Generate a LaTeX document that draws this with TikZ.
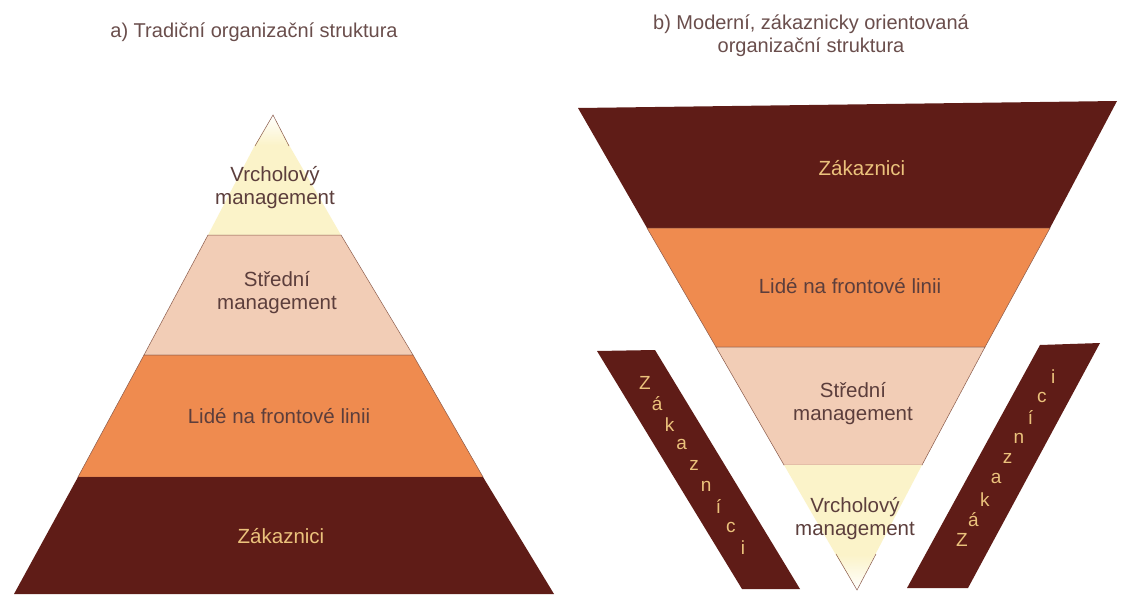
\documentclass[tikz,border=0pt]{standalone}
\usepackage{fontspec}
\setmainfont{Liberation Sans}
\definecolor{darkband}{HTML}{5F1C17}
\definecolor{orangeband}{HTML}{EF8B4F}
\definecolor{pinkband}{HTML}{F2CDB6}
\definecolor{yellowband}{HTML}{FBF3C9}
\definecolor{goldtext}{HTML}{EBC27C}
\definecolor{inktext}{HTML}{5C3E3C}
\definecolor{titletext}{HTML}{6A4E4C}
\definecolor{edgeline}{HTML}{8A5A4A}
\tikzset{
  band/.style={draw=edgeline, line width=0.5pt, line join=miter},
  lighttext/.style={text=inktext, font=\fontsize{20.5}{23}\selectfont, align=center, inner sep=0pt},
  darktext/.style={text=goldtext, font=\fontsize{20.5}{23}\selectfont, align=center, inner sep=0pt},
  titlestyle/.style={text=titletext, font=\fontsize{20}{23}\selectfont, align=center, inner sep=0pt},
  barletter/.style={text=goldtext, font=\fontsize{19}{19}\selectfont, inner sep=0pt},
  bar/.style={fill=darkband, draw=none}
}
\begin{document}
\begin{tikzpicture}[x=1pt,y=-1pt]
\useasboundingbox (0,0) rectangle (1126,594);
\fill[white] (0,0) rectangle (1126,594);

% ---- titles
\node[titlestyle] (titleA) at (254,32) {a) Tradiční organizační struktura};
\node[titlestyle] (titleB) at (811,36) {b) Moderní, zákaznicky orientovaná\\organizační struktura};

% ---- a) traditional pyramid, top to bottom
\fill[yellowband] (255,145) -- (208,235) -- (341,235) -- (289,145) -- cycle;
\shade[top color=white, bottom color=yellowband] (273,115) -- (255,145) -- (289,145) -- cycle;
\draw[edgeline, line width=0.5pt] (255,146) -- (273,115) -- (289,146);
\draw[band, fill=pinkband]   (208,235) -- (144,355) -- (413,355) -- (341,235) -- cycle;
\draw[band, fill=orangeband] (144,355) -- (78,477) -- (483,477) -- (413,355) -- cycle;
\fill[darkband] (78,477) -- (14,594) -- (554,594) -- (483,477) -- cycle;

\node[lighttext] (aTop) at (275,188) {Vrcholový\\management};
\node[lighttext] (aMid) at (277,293) {Střední\\management};
\node[lighttext] (aFront) at (279,416) {Lidé na frontové linii};
\node[darktext] (aCust) at (281,536) {Zákaznici};

% ---- b) inverted pyramid, top to bottom
\fill[darkband] (578,108) -- (1117,101) -- (1050,228) -- (647,228) -- cycle;
\draw[band, fill=orangeband] (647,228) -- (1050,228) -- (985,347) -- (716,347) -- cycle;
\draw[band, fill=pinkband]   (716,347) -- (985,347) -- (922,465) -- (784,465) -- cycle;
\fill[yellowband] (784,465) -- (922,465) -- (875,555) -- (836,555) -- cycle;
\shade[top color=yellowband, bottom color=white] (836,555) -- (875,555) -- (857,590) -- cycle;
\draw[edgeline, line width=0.5pt] (836,554) -- (857,590) -- (876,554);

\node[darktext] (bCust) at (862,168) {Zákaznici};
\node[lighttext] (bFront) at (850,286) {Lidé na frontové linii};
\node[lighttext] (bMid) at (853,404) {Střední\\management};
\node[lighttext] (bTop) at (855,519) {Vrcholový\\management};

% ---- slanted customer bars
\path[bar] (597,351) -- (655,350) -- (800,589) -- (742,589) -- cycle;
\path[bar] (1040,345) -- (1100,343) -- (968,588) -- (907,588) -- cycle;

\foreach \ch [count=\i from 0] in {Z,á,k,a,z,n,í,c,i} {
  \node[barletter] (lbar\i) at ({645+12.25*\i},{383+20.6*\i}) {\ch};
  \node[barletter] (rbar\i) at ({962+11.4*\i},{540-20.4*\i}) {\ch};
}
\end{tikzpicture}
\end{document}
